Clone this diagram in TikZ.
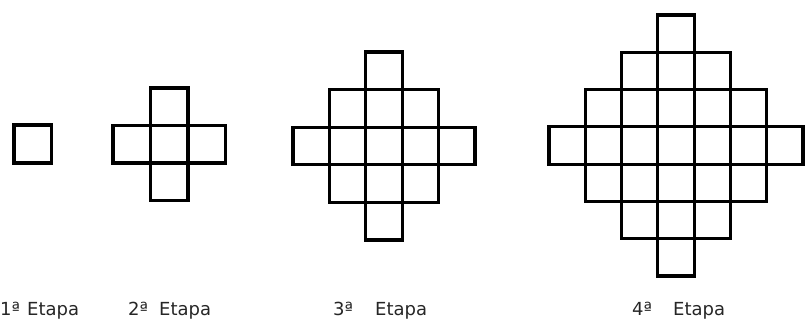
\documentclass[tikz,border=0pt]{standalone}
\usepackage{fontspec}
\setmainfont{DejaVu Sans}
\newcommand\drawstage[5]{% n, cx, cy, w, h
  \pgfmathtruncatemacro\mstage{#1-1}
  \foreach \i in {-\mstage,...,\mstage}{
    \foreach \j in {-\mstage,...,\mstage}{
      \pgfmathtruncatemacro\sdist{abs(\i)+abs(\j)}
      \ifnum\sdist<#1
        \draw[cell] ({#2+(\i-0.5)*#4},{#3+(\j-0.5)*#5}) rectangle ++(#4,#5);
      \fi
    }
  }
}
\begin{document}
\begin{tikzpicture}[x=1pt,y=-1pt,
  cell/.style={draw=black,line width=3.2pt,line join=miter},
  lbl/.style={font=\fontsize{18}{21}\selectfont,text=black!85,inner sep=0pt,anchor=base west}]
\useasboundingbox (0,0) rectangle (805,323);
% Stage 1
\draw[cell] (14,125) rectangle (51.5,163);
% Stage 2
\drawstage{2}{169.25}{144.25}{37.5}{37.5}
% Stage 3
\drawstage{3}{384}{146}{36.4}{37.6}
% Stage 4
\drawstage{4}{676}{145.5}{36.3}{37.3}
% Labels
\node[lbl] (n1) at (0,315) {1ª};
\node[lbl] (e1) at (27,315) {Etapa};
\node[lbl] (n2) at (128,315) {2ª};
\node[lbl] (e2) at (159,315) {Etapa};
\node[lbl] (n3) at (333,315) {3ª};
\node[lbl] (e3) at (375,315) {Etapa};
\node[lbl] (n4) at (632,315) {4ª};
\node[lbl] (e4) at (673,315) {Etapa};
\end{tikzpicture}
\end{document}
